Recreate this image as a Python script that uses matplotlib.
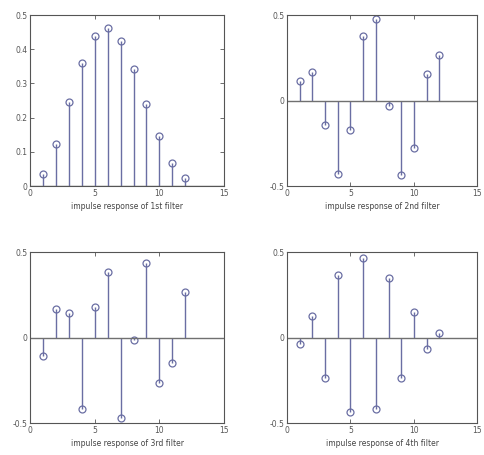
import numpy as np
import matplotlib
matplotlib.use("Agg")
import matplotlib.pyplot as plt

n = np.arange(1, 13)

h1 = [0.034, 0.124, 0.246, 0.361, 0.44, 0.461, 0.424, 0.342, 0.241, 0.146, 0.068, 0.024]
h2 = [0.114, 0.165, -0.143, -0.431, -0.173, 0.376, 0.475, -0.03, -0.437, -0.275, 0.153, 0.265]
h3 = [-0.107, 0.168, 0.142, -0.419, 0.177, 0.386, -0.468, -0.014, 0.439, -0.267, -0.15, 0.269]
h4 = [-0.037, 0.129, -0.238, 0.366, -0.437, 0.468, -0.419, 0.347, -0.238, 0.148, -0.066, 0.025]

labels = ["impulse response of 1st filter", "impulse response of 2nd filter",
          "impulse response of 3rd filter", "impulse response of 4th filter"]
responses = [h1, h2, h3, h4]

STEM = "#6a6ea3"
positions = [
    [0.062, 0.591, 0.400, 0.376],
    [0.592, 0.591, 0.392, 0.376],
    [0.062, 0.070, 0.400, 0.376],
    [0.592, 0.070, 0.392, 0.376],
]

fig = plt.figure(figsize=(4.85, 4.55), dpi=100)

for i, (h, lab, pos) in enumerate(zip(responses, labels, positions)):
    ax = fig.add_axes(pos)
    markerline, stemlines, baseline = ax.stem(n, h)
    plt.setp(stemlines, color=STEM, linewidth=1.0)
    plt.setp(markerline, marker="o", markersize=5, markerfacecolor="none",
             markeredgecolor=STEM, markeredgewidth=0.9)
    plt.setp(baseline, color="#707070", linewidth=1.0)
    baseline.set_xdata([0, 15])
    ax.set_xlim(0, 15)
    ax.set_xticks([0, 5, 10, 15])
    if i == 0:
        ax.set_ylim(0, 0.5)
        ax.set_yticks([0, 0.1, 0.2, 0.3, 0.4, 0.5])
        ax.set_yticklabels(["0", "0.1", "0.2", "0.3", "0.4", "0.5"])
    else:
        ax.set_ylim(-0.5, 0.5)
        ax.set_yticks([-0.5, 0, 0.5])
        ax.set_yticklabels(["-0.5", "0", "0.5"])
    ax.tick_params(direction="in", top=True, right=True, labelsize=5.5,
                   length=3, width=0.6, colors="#555555", pad=2)
    for s in ax.spines.values():
        s.set_color("#555555")
        s.set_linewidth(0.8)
    ax.set_xlabel(lab, fontsize=5.5, color="#444444", labelpad=3)

fig.savefig("out.png", dpi=100)
